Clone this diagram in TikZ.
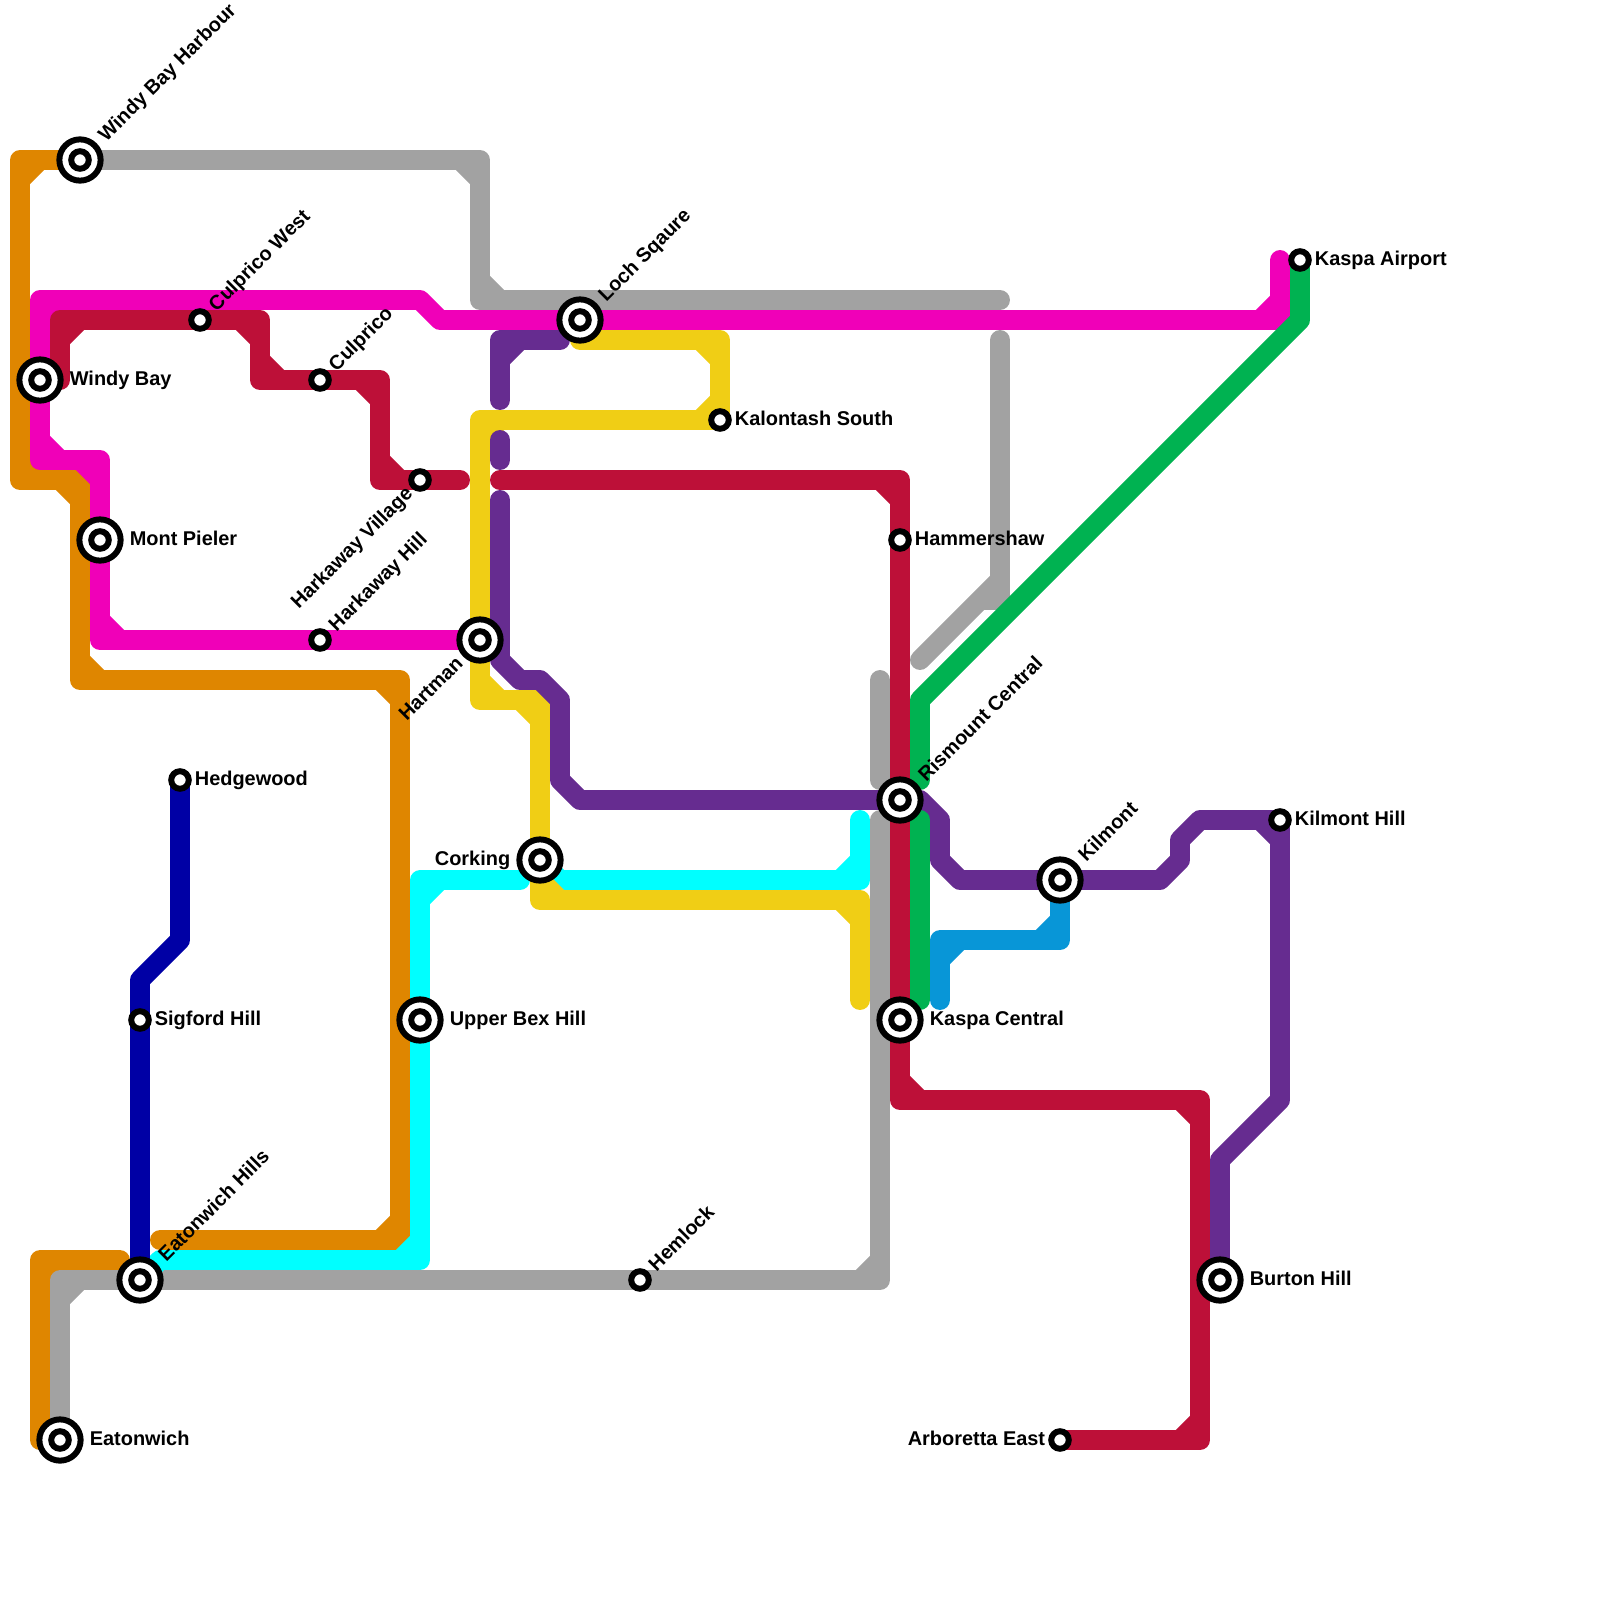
\documentclass[tikz,border=0pt]{standalone}
\usepackage{fontspec}
\setmainfont{Liberation Sans}
\usetikzlibrary{positioning,backgrounds}
\definecolor{lineorange}{HTML}{DF8600}
\definecolor{linegrey}{HTML}{A2A2A2}
\definecolor{linepink}{HTML}{F000B8}
\definecolor{linered}{HTML}{BD1038}
\definecolor{linecyan}{HTML}{00FFFF}
\definecolor{lineyellow}{HTML}{F0CE15}
\definecolor{linepurple}{HTML}{662C90}
\definecolor{linegreen}{HTML}{00B251}
\definecolor{lineblue}{HTML}{0896D7}
\definecolor{linenavy}{HTML}{0000A5}

\begin{document}
\begin{tikzpicture}
          [x=.25cm,y=-.25cm]
          \tikzstyle{smallstn}=[circle,draw=black,fill=white,line width=2.13pt,inner sep=0pt,minimum size=6.24pt]
          \tikzstyle{bigstn}=[circle,draw=black,fill=white,line width=2.13pt,inner sep=0pt,minimum size=14.67pt,
            path picture={\draw[line width=2.13pt] (path picture bounding box.center) circle (3.12pt);}]
          \tikzstyle{lbl}=[inner sep=0pt,outer sep=0pt,text height=.72em,text depth=.2em,yshift=.6pt,font=\bfseries\fontsize{7.09}{8}\selectfont]
          \tikzstyle{slant}=[lbl,rotate=45]

          \useasboundingbox (0,0) rectangle (80,80);

          \node[bigstn] (windyharbour) at (4,8) {};
          \node[bigstn] (windybay) at (2,19) {};
          \node[smallstn] (culpricowest) at (10,16) {};
          \node[smallstn] (culprico) at (16,19) {};
          \node[smallstn] (harkvillage) at (21,24) {};
          \node[smallstn] (harkhill) at (16,32) {};
          \node[bigstn] (montpieler) at (5,27) {};
          \node[bigstn] (hartman) at (24,32) {};
          \node[bigstn] (lochsqaure) at (29,16) {};
          \node[smallstn] (kalontash) at (36,21) {};
          \node[smallstn] (kaspaairport) at (65,13) {};
          \node[smallstn] (hammershaw) at (45,27) {};
          \node[bigstn] (rismount) at (45,40) {};
          \node[smallstn] (hedgewood) at (9,39) {};
          \node[smallstn] (sigford) at (7,51) {};
          \node[bigstn] (corking) at (27,43) {};
          \node[bigstn] (upperbex) at (21,51) {};
          \node[bigstn] (kaspacentral) at (45,51) {};
          \node[bigstn] (kilmont) at (53,44) {};
          \node[smallstn] (kilmonthill) at (64,41) {};
          \node[bigstn] (burtonhill) at (61,64) {};
          \node[bigstn] (eatonhills) at (7,64) {};
          \node[smallstn] (hemlock) at (32,64) {};
          \node[bigstn] (eatonwich) at (3,72) {};
          \node[smallstn] (arboretta) at (53,72) {};

          \node[slant,above right=1.6pt and 1.6pt of windyharbour,anchor=west] (windyharbourtxt) {Windy Bay Harbour};
          \node[lbl,right=2.2pt of windybay] (windybaytxt) {Windy Bay};
          \node[slant,above right=1.1pt and 1.1pt of culpricowest,anchor=west] (culpricowesttxt) {Culprico West};
          \node[slant,above right=1.1pt and 1.1pt of culprico,anchor=west] (culpricotxt) {Culprico};
          \node[slant,below left=1.1pt and 1.1pt of harkvillage,anchor=east] (harkvillagetxt) {Harkaway Village};
          \node[slant,above right=1.1pt and 1.1pt of harkhill,anchor=west] (harkhilltxt) {Harkaway Hill};
          \node[lbl,right=2.2pt of montpieler] (montpielertxt) {Mont Pieler};
          \node[slant,below left=1.6pt and 1.6pt of hartman,anchor=east] (hartmantxt) {Hartman};
          \node[slant,above right=1.6pt and 1.6pt of lochsqaure,anchor=west] (lochsqauretxt) {Loch Sqaure};
          \node[lbl,right=1.1pt of kalontash] (kalontashtxt) {Kalontash South};
          \node[lbl,right=1.1pt of kaspaairport] (kaspaairporttxt) {Kaspa Airport};
          \node[lbl,right=1.1pt of hammershaw] (hammershawtxt) {Hammershaw};
          \node[slant,above right=1.6pt and 1.6pt of rismount,anchor=west] (rismounttxt) {Rismount Central};
          \node[lbl,right=1.1pt of hedgewood] (hedgewoodtxt) {Hedgewood};
          \node[lbl,right=1.1pt of sigford] (sigfordtxt) {Sigford Hill};
          \node[lbl,left=2.2pt of corking] (corkingtxt) {Corking};
          \node[lbl,right=2.2pt of upperbex] (upperbextxt) {Upper Bex Hill};
          \node[lbl,right=2.2pt of kaspacentral] (kaspacentraltxt) {Kaspa Central};
          \node[slant,above right=1.6pt and 1.6pt of kilmont,anchor=west] (kilmonttxt) {Kilmont};
          \node[lbl,right=1.1pt of kilmonthill] (kilmonthilltxt) {Kilmont Hill};
          \node[lbl,right=2.2pt of burtonhill] (burtonhilltxt) {Burton Hill};
          \node[slant,above right=1.6pt and 1.6pt of eatonhills,anchor=west] (eatonhillstxt) {Eatonwich Hills};
          \node[slant,above right=1.1pt and 1.1pt of hemlock,anchor=west] (hemlocktxt) {Hemlock};
          \node[lbl,right=2.2pt of eatonwich] (eatonwichtxt) {Eatonwich};
          \node[lbl,left=1.1pt of arboretta] (arborettatxt) {Arboretta East};

          \begin{scope}[on background layer={line width=7.09pt,line cap=round,line join=round}]
            \draw[lineorange] (windyharbour.center) -- (1,8) -- (1,24) -- (4,24) -- (4,34) -- (20,34) -- (20,62) -- (8,62)
              (2,8) -- (1,9) (1,23) -- (2,24) (3,24) -- (4,25) (4,33) -- (5,34) (19,34) -- (20,35) (20,61) -- (19,62);
            \draw[lineorange] (eatonwich.center) -- (2,72) -- (2,63) -- (6,63)
              (2,71) -- (3,72) (2,64) -- (3,63);

            \draw[linegrey] (windyharbour.center) -- (24,8) -- (24,15) -- (50,15)
              (23,8) -- (24,9) (24,14) -- (25,15);
            \draw[linegrey] (50,17) -- (50,30) -- (49,30) -- (46,33)
              (50,29) -- (49,30);
            \draw[linegrey] (44,34) -- (44,39);
            \draw[linegrey] (eatonwich.center) -- (3,64) -- (eatonhills.center) -- (hemlock.center) -- (44,64) -- (44,41)
              (44,63) -- (43,64) (4,64) -- (3,65);

            \draw[linepink] (64,13) -- (64,16) -- (22,16) -- (21,15) -- (2,15) -- (windybay.center) -- (2,23) -- (5,23)
              -- (montpieler.center) -- (5,32) -- (harkhill.center) -- (hartman.center)
              (64,15) -- (63,16) (3,15) -- (2,16) (2,22) -- (3,23) (4,23) -- (5,24) (5,31) -- (6,32);

            \draw[linered] (3,19) -- (3,16) -- (culpricowest.center) -- (13,16) -- (13,19) -- (culprico.center) -- (19,19)
              -- (19,24) -- (harkvillage.center) -- (23,24)
              (3,17) -- (4,16) (12,16) -- (13,17) (13,18) -- (14,19) (18,19) -- (19,20) (19,23) -- (20,24);
            \draw[linered] (25,24) -- (45,24) -- (hammershaw.center) -- (rismount.center) -- (kaspacentral.center) -- (45,55)
              -- (60,55) -- (60,72) -- (arboretta.center)
              (44,24) -- (45,25) (45,54) -- (46,55) (59,55) -- (60,56) (60,71) -- (59,72);

            \draw[linecyan] (26,44) -- (21,44) -- (upperbex.center) -- (21,63) -- (8,63) -- (eatonhills.center)
              (22,44) -- (21,45) (21,62) -- (20,63);
            \draw[linecyan] (corking.center) -- (28,44) -- (43,44) -- (43,41)
              (42,44) -- (43,43);

            \draw[lineyellow] (29,17) -- (36,17) -- (kalontash.center) -- (24,21) -- (hartman.center)
              -- (24,35) -- (27,35) -- (corking.center) -- (27,45) -- (43,45) -- (43,50)
              (35,17) -- (36,18) (36,20) -- (35,21) (25,21) -- (24,22) (24,34) -- (25,35) (26,35) -- (27,36) (27,44) -- (28,45) (42,45) -- (43,46);

            \draw[linepurple] (28,17) -- (25,17) -- (25,20)
              (26,17) -- (25,18);
            \draw[linepurple] (25,22) -- (25,23);
            \draw[linepurple] (25,25) -- (25,33) -- (26,34) -- (27,34) -- (28,35) -- (28,39) -- (29,40) -- (rismount.center)
              -- (46,40) -- (47,41) -- (47,43) -- (48,44) -- (kilmont.center) -- (58,44) -- (59,43) -- (59,42) -- (60,41)
              -- (kilmonthill.center) -- (64,55) -- (61,58) -- (burtonhill.center)
              (63,41) -- (64,42);

            \draw[linegreen] (kaspaairport.center) -- (65,16) -- (46,35) -- (46,39);
            \draw[linegreen] (46,41) -- (46,50);

            \draw[lineblue] (kilmont.center) -- (53,47) -- (47,47) -- (47,50)
              (53,46) -- (52,47) (48,47) -- (47,48);

            \draw[linenavy] (hedgewood.center) -- (9,47) -- (7,49) -- (sigford.center) -- (eatonhills.center);
          \end{scope}
        \end{tikzpicture}
\end{document}
